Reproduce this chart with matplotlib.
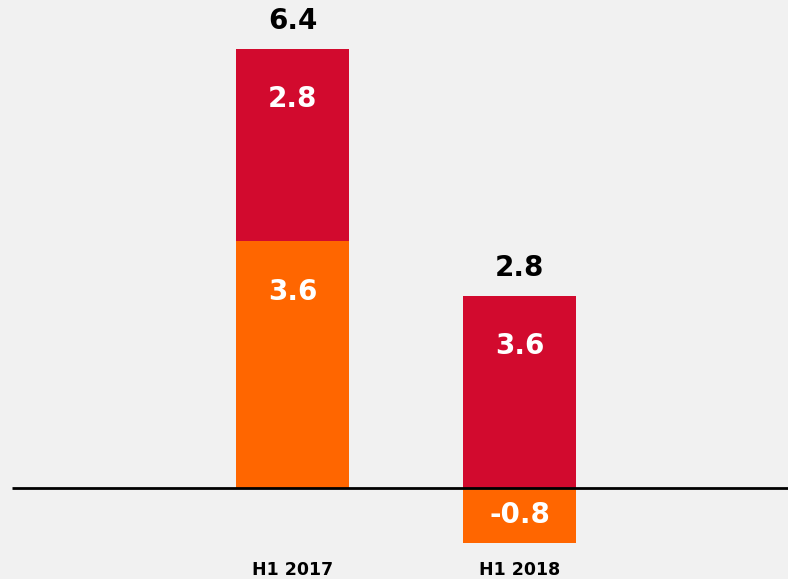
import numpy as np
import matplotlib
matplotlib.use('Agg')
import matplotlib.pyplot as plt

# data
periods = ['H1 2017', 'H1 2018']
orange_vals = [3.6, -0.8]
red_vals = [2.8, 3.6]
totals = [6.4, 2.8]

BG = '#f1f1f1'
RED = '#d20a2e'
ORANGE = '#ff6600'

fig = plt.figure(figsize=(7.88, 5.79), dpi=100, facecolor=BG)
ax = fig.add_axes([0, 0, 1, 1], facecolor=BG)

x = np.arange(len(periods))
width = 0.5

# red segment sits on top of the orange value (waterfall-style)
ax.bar(x, red_vals, width, bottom=orange_vals, color=RED, zorder=2)
ax.bar(x, orange_vals, width, color=ORANGE, zorder=3)

ax.plot([-1.236, 2.3], [0, 0], color='black', lw=2, zorder=4,
        solid_capstyle='butt')

for i in range(len(periods)):
    o, r, t = orange_vals[i], red_vals[i], totals[i]
    # orange label
    if abs(o) > 1.5:
        yo = o - 0.75
    else:
        yo = o / 2
    ax.text(x[i], yo, f'{o:.1f}', ha='center', va='center', color='white',
            fontsize=20, fontweight='semibold', zorder=5)
    top = o + r
    ax.text(x[i], top - 0.73, f'{r:.1f}', ha='center', va='center',
            color='white', fontsize=20, fontweight='semibold', zorder=5)
    ax.text(x[i], top + 0.41, f'{t:.1f}', ha='center', va='center',
            color='black', fontsize=20, fontweight='bold', zorder=5)
    ax.text(x[i], -1.2, periods[i], ha='center', va='center',
            color='black', fontsize=12.5, fontweight='bold', zorder=5)

ax.set_xlim(-292.5 / 227, (788 - 292.5) / 227)
ax.set_ylim(-91 / 68.6, 488 / 68.6)
ax.axis('off')

fig.savefig('out.png', dpi=100, facecolor=BG)
